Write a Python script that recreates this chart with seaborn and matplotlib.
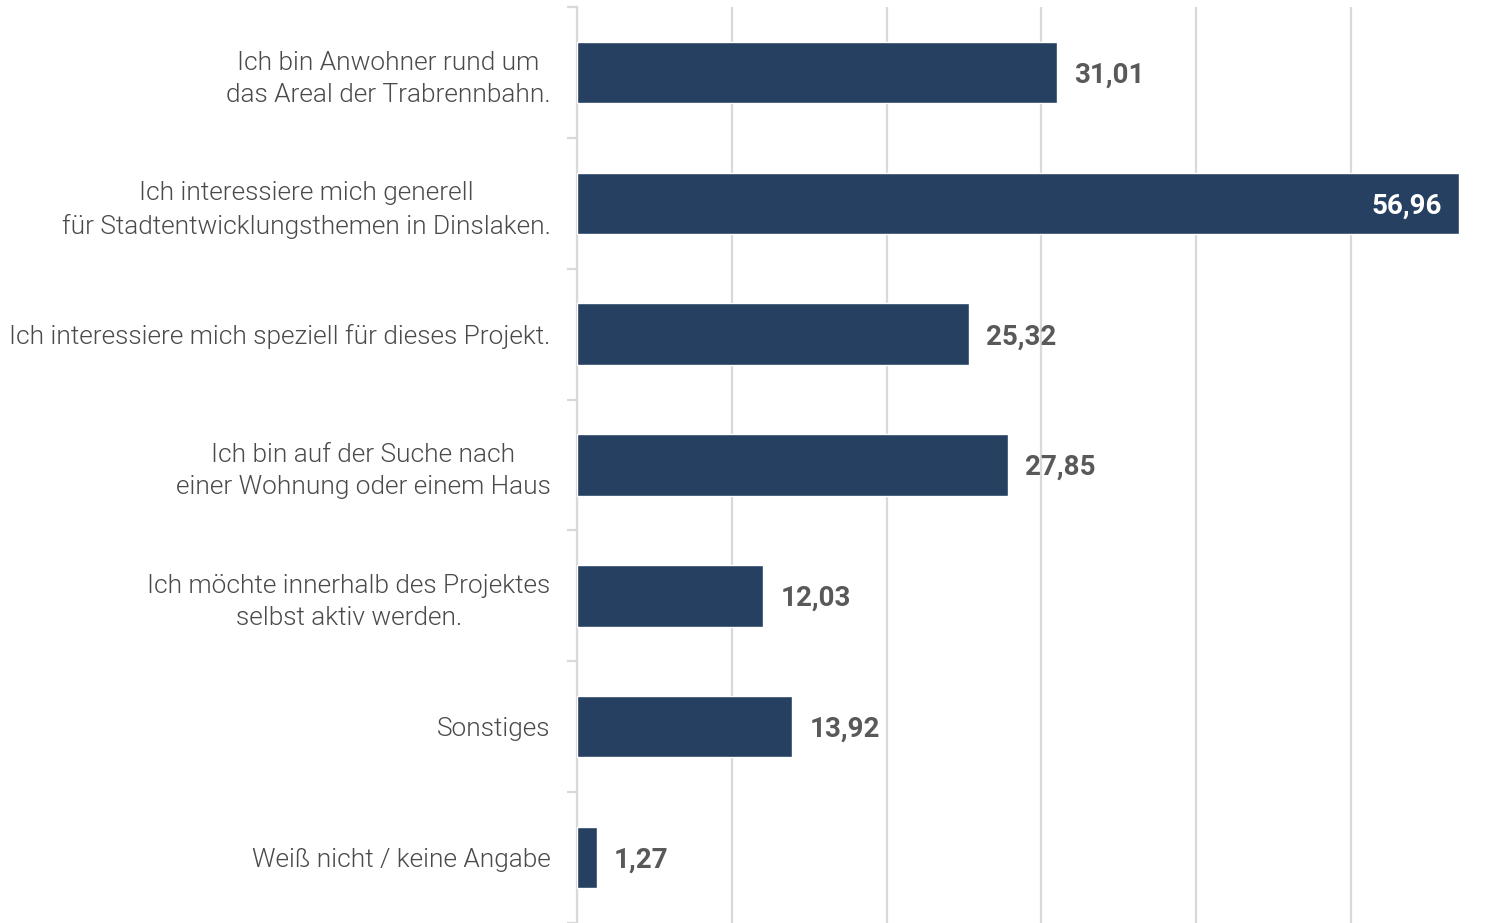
import matplotlib
matplotlib.use("Agg")
import matplotlib.pyplot as plt
import seaborn as sns
import pandas as pd

categories = [
    "Ich bin Anwohner rund um\ndas Areal der Trabrennbahn.",
    "Ich interessiere mich generell\nfür Stadtentwicklungsthemen in Dinslaken.",
    "Ich interessiere mich speziell für dieses Projekt.",
    "Ich bin auf der Suche nach\neiner Wohnung oder einem Haus",
    "Ich möchte innerhalb des Projektes\nselbst aktiv werden.",
    "Sonstiges",
    "Weiß nicht / keine Angabe",
]
values = [31.01, 56.96, 25.32, 27.85, 12.03, 13.92, 1.27]
value_labels = ["31,01", "56,96", "25,32", "27,85", "12,03", "13,92", "1,27"]

df = pd.DataFrame({"kategorie": categories, "wert": values})

sns.set_style("white")
plt.rcParams["font.family"] = ["Roboto", "DejaVu Sans"]

fig = plt.figure(figsize=(15.01, 9.23), dpi=100)
ax = fig.add_axes([577 / 1501, 0, 1 - 577 / 1501, 1 - 7 / 923])

sns.barplot(data=df, x="wert", y="kategorie", color="#264061", width=0.47,
            saturation=1, ax=ax, zorder=3)

ax.set_xlim(0, 59.7)
ax.set_ylim(6.48, -0.5)
ax.set_xticks(range(0, 60, 10))
ax.grid(axis="x", color="#d9d9d9", linewidth=1.6, zorder=0)
ax.set_xticklabels([])
ax.tick_params(axis="x", length=0)

ax.set_yticks(range(len(categories)))
ax.set_yticklabels(categories, fontsize=18.9, fontweight=300, color="#4a4a4a",
                   multialignment="center", linespacing=1.42)
ax.set_yticks([i - 0.5 for i in range(len(categories) + 1)], minor=True)
ax.tick_params(axis="y", which="major", left=False, length=0, pad=19)
ax.tick_params(axis="y", which="minor", left=True, length=7, width=1.6,
               color="#d9d9d9")
ax.set_xlabel("")
ax.set_ylabel("")

for s in ["top", "right", "bottom"]:
    ax.spines[s].set_visible(False)
ax.spines["left"].set_color("#d9d9d9")
ax.spines["left"].set_linewidth(1.6)

for i, (v, lab) in enumerate(zip(values, value_labels)):
    if v > 50:
        ax.text(v - 1.1, i + 0.02, lab, ha="right", va="center", fontsize=20,
                fontweight="bold", color="white", zorder=4)
    else:
        ax.text(v + 1.1, i + 0.02, lab, ha="left", va="center", fontsize=20,
                fontweight="bold", color="#595959", zorder=4)

fig.savefig("out.png", dpi=100)
